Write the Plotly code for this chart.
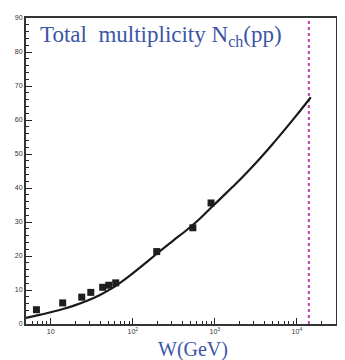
import plotly.graph_objects as go

# measured multiplicities (W in GeV, N_ch)
w_data = [6.7, 14.0, 23.9, 30.8, 43.0, 51.0, 62.0, 196.0, 540.0, 900.0]
n_data = [4.2, 6.2, 7.9, 9.3, 10.8, 11.4, 12.1, 21.3, 28.3, 35.6]

# model curve
w_curve = [5.0, 7.08, 10, 14.1, 20, 28.2, 39.8, 56.2, 79.4, 112, 158, 224, 316,
           447, 631, 891, 1259, 1778, 2512, 3548, 5012, 7079, 10000, 14791]
n_curve = [1.8, 2.6, 3.45, 4.4, 5.55, 6.9, 8.55, 10.55, 13.05, 15.85, 18.8, 21.8,
           24.7, 27.5, 30.6, 34.1, 37.6, 41.1, 44.8, 48.7, 52.8, 57.1, 61.5, 66.7]

lhc_energy = 14000

x_tickvals = [10, 100, 1000, 10000]
x_ticktext = ["10", "10<sup>2</sup>", "10<sup>3</sup>", "10<sup>4</sup>"]

blue = "#3c55a5"

fig = go.Figure()

fig.add_trace(go.Scatter(
    x=[lhc_energy, lhc_energy], y=[0, 90], mode="lines",
    line=dict(color="#c53fa6", width=2, dash="dot"), showlegend=False
))
fig.add_trace(go.Scatter(
    x=w_curve, y=n_curve, mode="lines",
    line=dict(color="#1a1a1a", width=2.2, shape="spline", smoothing=0.8),
    showlegend=False
))
fig.add_trace(go.Scatter(
    x=w_data, y=n_data, mode="markers",
    marker=dict(symbol="square", size=7, color="#1e1e1e"), showlegend=False
))

fig.add_annotation(
    text="Total&nbsp;&nbsp;multiplicity N<sub>ch</sub>(pp)",
    xref="paper", yref="paper", x=0.04, y=0.995,
    xanchor="left", yanchor="top", showarrow=False,
    font=dict(family="Liberation Serif", size=23, color=blue)
)
fig.add_annotation(
    text="W(GeV)", xref="paper", yref="paper", x=0.539, y=-0.082,
    xanchor="center", yanchor="middle", showarrow=False,
    font=dict(family="Liberation Serif", size=20, color=blue)
)

# page body has a default 8px margin, so the plot area is shifted up/left
fig.update_layout(
    width=345, height=360,
    margin=dict(l=18, r=17, t=6, b=44),
    paper_bgcolor="white", plot_bgcolor="white",
    font=dict(family="Liberation Sans", size=8, color="#333333"),
)
fig.update_xaxes(
    type="log", range=[0.699, 4.477],
    tickvals=x_tickvals, ticktext=x_ticktext,
    ticks="inside", ticklen=6, tickwidth=1, tickcolor="#222",
    minor=dict(ticks="inside", ticklen=3, tickcolor="#222", dtick="D1", showgrid=False),
    showline=True, linecolor="#333", linewidth=2, mirror=True,
    showgrid=False, zeroline=False, tickfont=dict(size=7)
)
fig.update_yaxes(
    range=[0, 90], dtick=10,
    ticks="inside", ticklen=6, tickwidth=1, tickcolor="#222",
    minor=dict(ticks="inside", ticklen=3, tickcolor="#222", dtick=2, showgrid=False),
    showline=True, linecolor="#333", linewidth=2, mirror=True,
    showgrid=False, zeroline=False, tickfont=dict(size=7)
)

fig.write_html("out.html")
